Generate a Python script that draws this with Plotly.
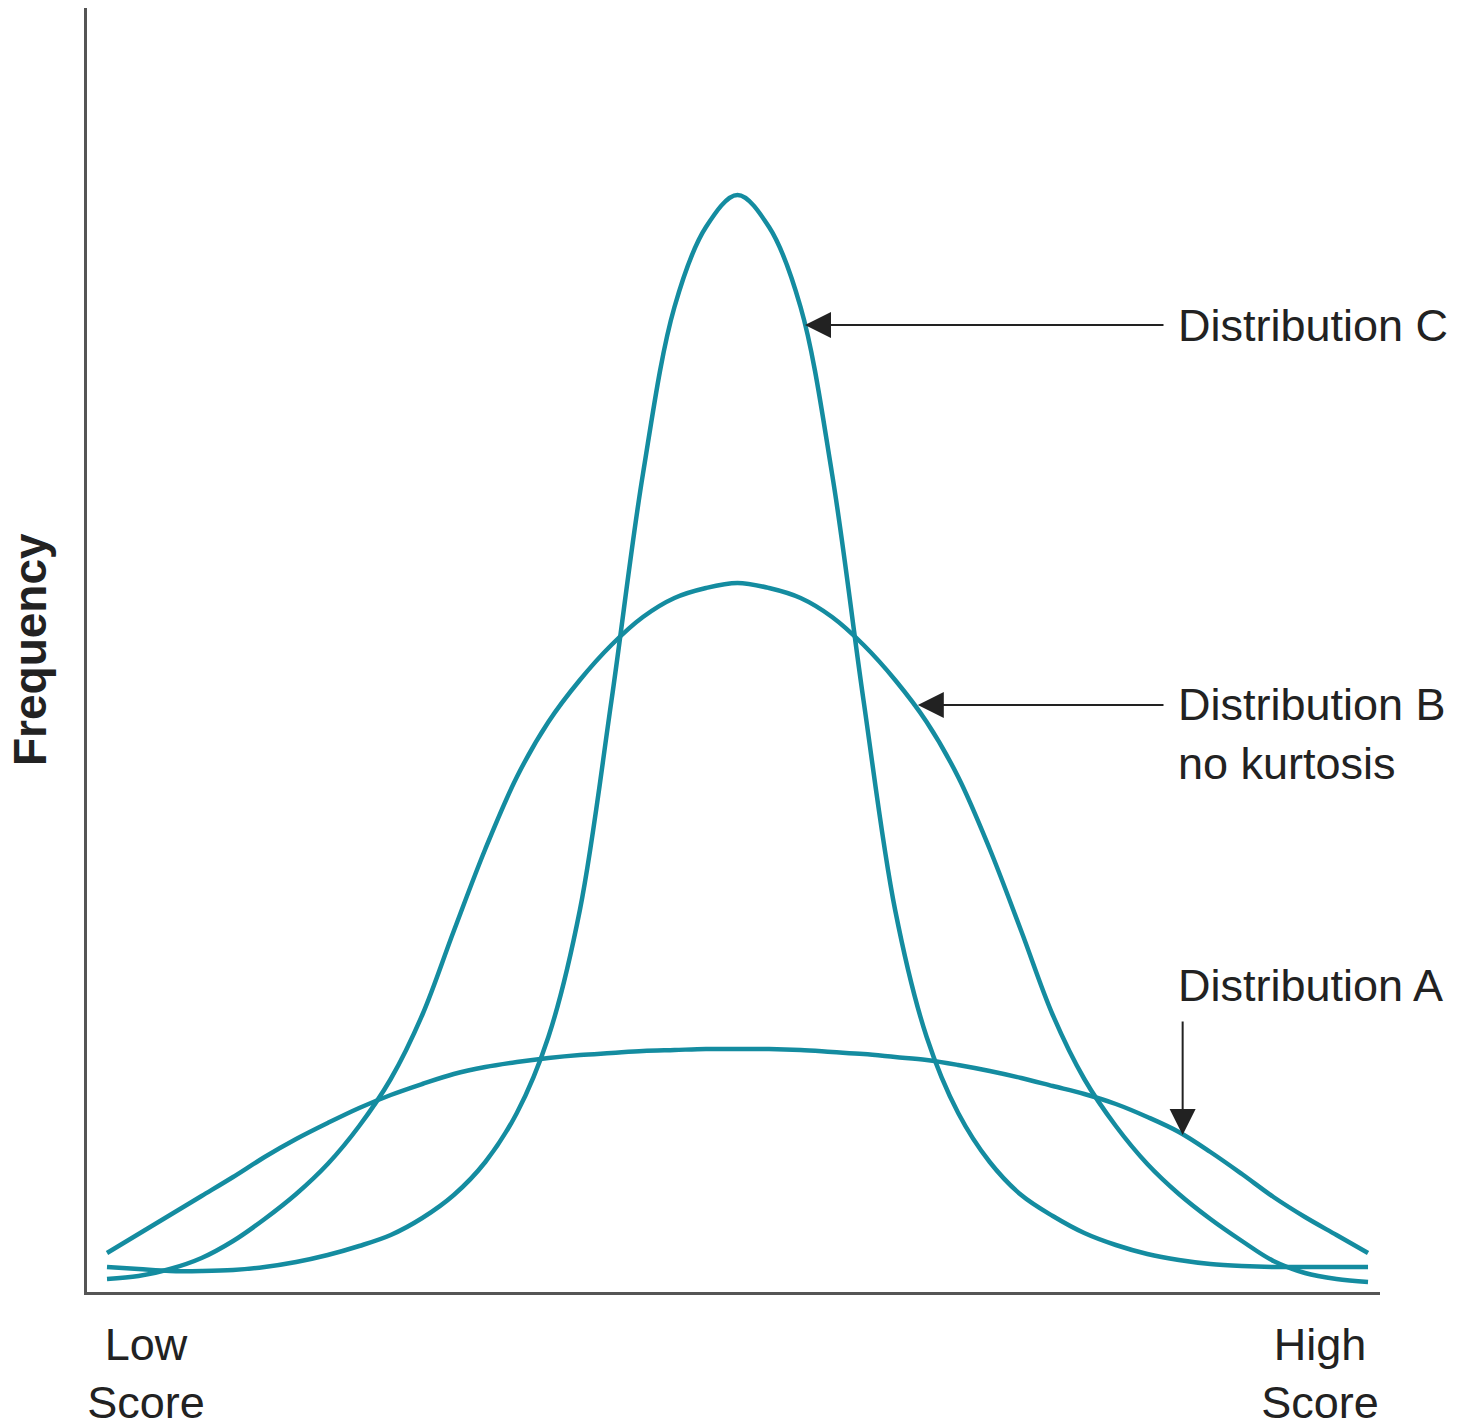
import plotly.graph_objects as go

# scores 0 (low) .. 100 (high) in steps of 2.5, frequency in arbitrary units
score = [i * 2.5 for i in range(41)]

freq_a = [39, 58, 77, 96, 115, 135, 153, 169, 184, 197, 208, 218, 225, 230, 234, 237, 239, 241, 242, 243,
          243,
          243, 242, 240, 238, 235, 232, 227, 221, 214, 206, 198, 188, 175, 160, 140, 118, 95, 75, 57, 39]

freq_b = [13, 16, 23, 34, 51, 73, 98, 128, 166, 213, 277, 361, 443, 515, 570, 612, 647, 675, 694, 704,
          709,
          704, 694, 675, 647, 612, 570, 515, 443, 361, 277, 213, 166, 128, 98, 73, 51, 31, 19, 13, 10]

freq_c = [25, 23, 21, 21, 22, 25, 30, 37, 46, 57, 74, 97, 130, 179, 255, 382, 591, 818, 985, 1065,
          1097,
          1065, 985, 818, 591, 382, 255, 179, 130, 97, 76, 59, 47, 38, 32, 28, 26, 25, 25, 25, 25]

tick_scores = [3.1, 96.2]
tick_text = ["Low<br>Score", "High<br>Score"]

teal = "#148ca0"
ink = "#222222"
font = "Liberation Sans, Arial, sans-serif"

fig = go.Figure()
for ys in [freq_a, freq_b, freq_c]:
    fig.add_trace(go.Scatter(x=score, y=ys, mode="lines",
                             line=dict(color=teal, width=4.5, shape="spline", smoothing=1),
                             showlegend=False, hoverinfo="skip"))

# arrows: (tip x, tip y, tail x, tail y)
arrows = [(55.35, 967, 83.9, 967), (64.3, 587, 83.9, 587), (85.3, 157, 85.3, 272)]
for tx, ty, ax_, ay_ in arrows:
    fig.add_annotation(x=tx, y=ty, ax=ax_, ay=ay_, xref="x", yref="y", axref="x", ayref="y",
                       text="", showarrow=True, arrowhead=2, arrowsize=2.6, arrowwidth=2,
                       arrowcolor=ink, standoff=0)

labels = [("Distribution C", 967), ("Distribution B<br>no kurtosis", 558), ("Distribution A", 307)]
for txt, yy in labels:
    fig.add_annotation(x=85.1, y=yy, xref="x", yref="y", text=txt, showarrow=False,
                       xanchor="left", yanchor="middle", align="left", xshift=-4,
                       font=dict(family=font, size=45, color=ink))

# y axis title, placed by hand left of the axis line
fig.add_annotation(x=0, y=0.5, xref="paper", yref="paper", text="<b>Frequency</b>",
                   textangle=-90, showarrow=False, xanchor="center", yanchor="middle",
                   xshift=-57, font=dict(family=font, size=46, color=ink))

fig.update_xaxes(range=[-1.586, 100.95], showgrid=False, zeroline=False,
                 showline=True, linecolor="#555555", linewidth=2.5, automargin=False,
                 tickvals=tick_scores, ticktext=tick_text, ticks="", ticklabelstandoff=11,
                 tickfont=dict(family=font, size=45, color=ink))
fig.update_yaxes(range=[0, 1284], showgrid=False, zeroline=False, automargin=False,
                 showline=True, linecolor="#555555", linewidth=2.5, showticklabels=False)

# the page body adds an 8px margin, so the figure is sized to leave room for it
fig.update_layout(width=1461, height=1414, margin=dict(l=79, r=89, t=0, b=130),
                  plot_bgcolor="white", paper_bgcolor="white")

fig.write_html("out.html")
